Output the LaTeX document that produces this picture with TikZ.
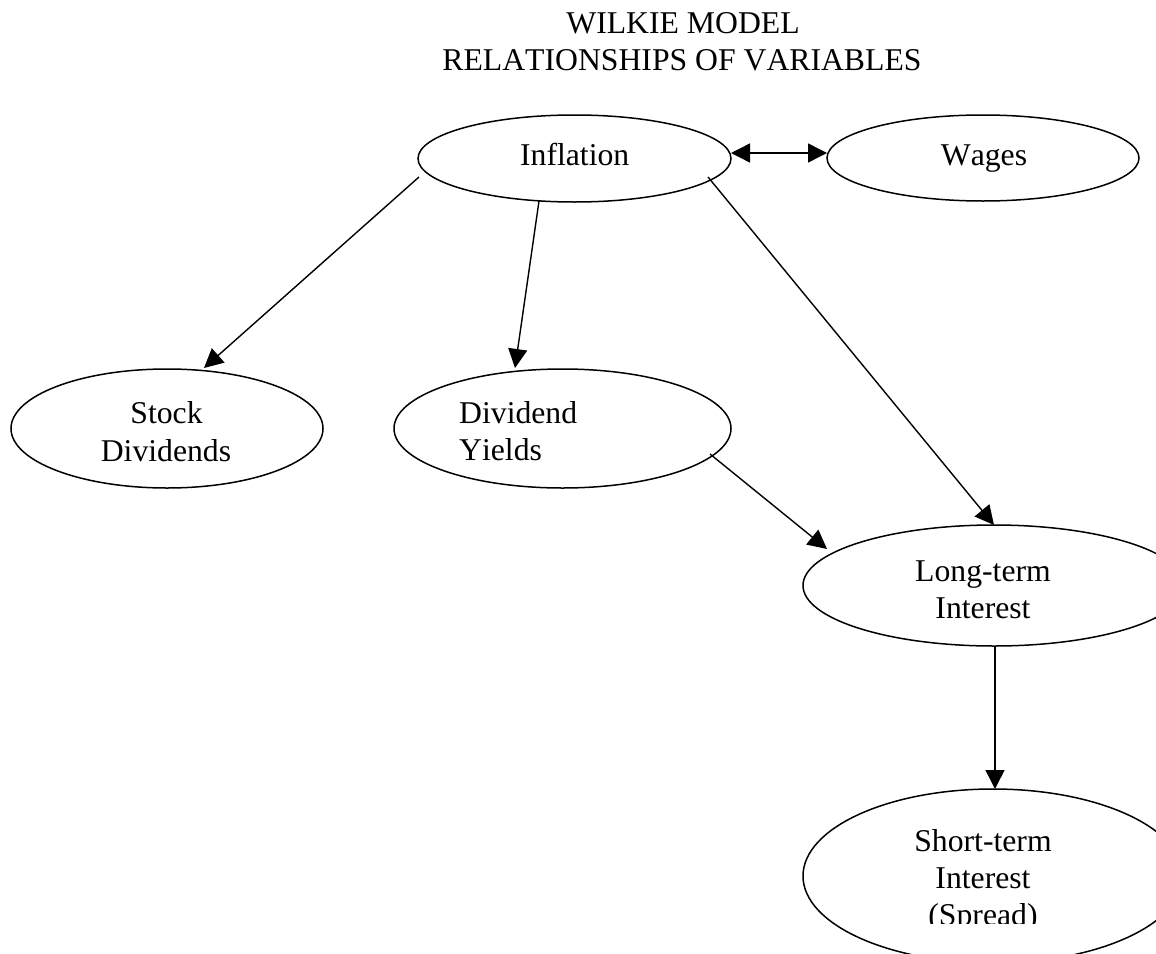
\documentclass[tikz,border=0pt]{standalone}
\usepackage{fontspec}
\setmainfont[Kerning=Off]{Liberation Serif}
\usetikzlibrary{arrows.meta,shapes.geometric}
\begin{document}
\begin{tikzpicture}[x=1pt,y=-1pt,
  oval/.style={draw,ellipse,line width=1.5pt,inner sep=0pt,outer sep=0pt},
  lbl/.style={inner sep=0pt,anchor=base,font=\fontsize{31.7}{37}\selectfont},
  conn/.style={line width=1.4pt,-{Triangle[length=19pt,width=19pt]}},
  dconn/.style={line width=1.4pt,{Triangle[length=19pt,width=19pt]}-{Triangle[length=19pt,width=19pt]}},
]
\useasboundingbox (0,0) rectangle (1156,953);
\clip (0,0) rectangle (1156,953);

% ellipses
\node[oval,minimum width=313pt,minimum height=87pt] (infl) at (574.5,158.5) {};
\node[oval,minimum width=312pt,minimum height=86pt] (wages) at (983,158) {};
\node[oval,minimum width=312pt,minimum height=119pt] (stock) at (167,428.5) {};
\node[oval,minimum width=337pt,minimum height=119pt] (dy) at (562.5,428.5) {};
\node[oval,minimum width=382pt,minimum height=121pt] (lt) at (994,585.5) {};
\node[oval,minimum width=380pt,minimum height=174pt] (st) at (993,876) {};

% title
\node[lbl] (t1) at (683,33) {WILKIE MODEL};
\node[lbl] (t2) at (682,70) {RELATIONSHIPS OF VARIABLES};

% labels
\node[lbl] (linfl) at (574.7,165) {Inflation};
\node[lbl] (lwages) at (984,165) {Wages};
\node[lbl] (lstock1) at (166.5,423) {Stock};
\node[lbl] (lstock2) at (166,461) {Dividends};
\node[lbl,anchor=base west] (ldy1) at (459,423) {Dividend};
\node[lbl,anchor=base west] (ldy2) at (459,460) {Yields};
\node[lbl] (llt1) at (983,581) {Long-term};
\node[lbl] (llt2) at (983,618) {Interest};
\node[lbl] (lst1) at (983,851) {Short-term};
\node[lbl] (lst2) at (983,888) {Interest};
\begin{scope}
\clip (850,895) rectangle (1120,923);
\node[lbl] (lst3) at (983,925) {(Spread)};
\end{scope}

% connector end points
\coordinate (a1) at (419,177);
\coordinate (b1) at (204,368);
\coordinate (a2) at (539,201);
\coordinate (b2) at (515,368);
\coordinate (a3) at (708,177);
\coordinate (b3) at (994,525);
\coordinate (a4) at (710,454);
\coordinate (b4) at (827,549);
\coordinate (a5) at (995,646);
\coordinate (b5) at (995,789);
\coordinate (a6) at (731,153);
\coordinate (b6) at (827,153);

\draw[conn] (a1) -- (b1);
\draw[conn] (a2) -- (b2);
\draw[conn] (a3) -- (b3);
\draw[conn] (a4) -- (b4);
\draw[conn] (a5) -- (b5);
\draw[dconn] (a6) -- (b6);
\end{tikzpicture}
\end{document}
